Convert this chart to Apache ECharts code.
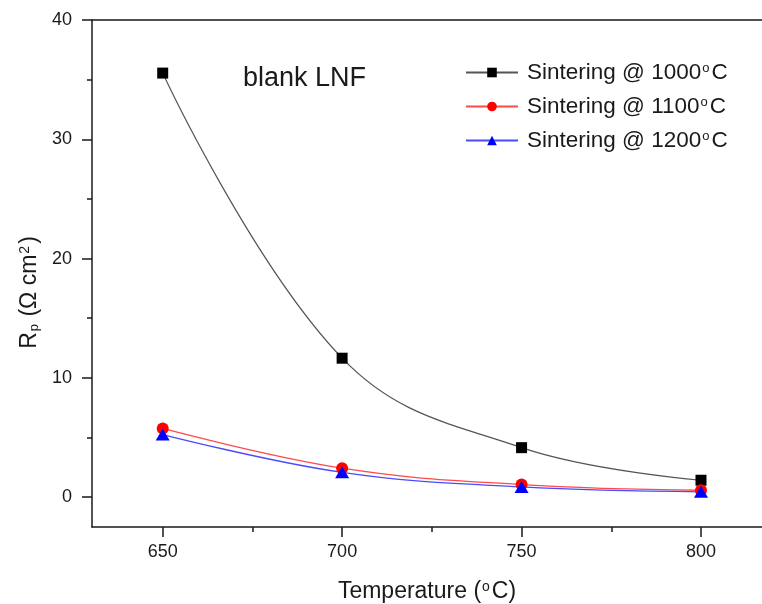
<!DOCTYPE html>
<html>
<head>
<meta charset="utf-8">
<script src="https://cdn.jsdelivr.net/npm/echarts@6/dist/echarts.min.js"></script>
<style>
  html, body { margin: 0; padding: 0; background: #fff; }
  #chart { width: 762px; height: 604px; }
</style>
</head>
<body>
<div id="chart"></div>
<script>
// Polarisation resistance of blank LNF cathodes vs. operating temperature
const temperatures = [650, 700, 750, 800];
const seriesNames = ['Sintering @ 1000°C', 'Sintering @ 1100°C', 'Sintering @ 1200°C'];
const rp1000 = [35.55, 11.65, 4.15, 1.42];
const rp1100 = [5.76, 2.43, 1.06, 0.58];
const rp1200 = [5.25, 2.08, 0.86, 0.45];
const xMajorTicks = [650, 700, 750, 800];
const xMinorTicks = [675, 725, 775];
const yMajorTicks = [0, 10, 20, 30, 40];
const yMinorTicks = [5, 15, 25, 35];

const FONT = '"Liberation Sans", Arial, sans-serif';
const INK = '#1a1a1a';
const X_MIN = 630.3, X_MAX = 817;
const Y_MIN = -2.5, Y_MAX = 40;

const pairs = vals => temperatures.map((t, i) => [t, vals[i]]);

const chart = echarts.init(document.getElementById('chart'), null, { renderer: 'canvas' });

const axisLine = { show: true, onZero: false, lineStyle: { color: INK, width: 1.5 } };
const supStyle = size => ({ fontFamily: FONT, fontSize: size, lineHeight: 9, color: INK, verticalAlign: 'top', padding: [0, 2, 0, 1] });

chart.setOption({
  animation: false,
  backgroundColor: '#fff',
  title: {
    text: 'blank LNF',
    left: 243,
    top: 65,
    padding: 0,
    textStyle: { fontFamily: FONT, fontSize: 27, fontWeight: 'normal', color: INK }
  },
  legend: {
    orient: 'vertical',
    left: 465,
    top: 61,
    itemWidth: 52,
    itemHeight: 12,
    itemGap: 11,
    padding: 0,
    data: seriesNames,
    formatter: name => name.replace('°', '{sup|o}'),
    textStyle: {
      fontFamily: FONT, fontSize: 22.5, lineHeight: 22, color: INK, padding: [0, 0, 0, 4],
      rich: { sup: supStyle(13) }
    }
  },
  grid: { left: 92, top: 20, width: 670, height: 507, containLabel: false, outerBoundsMode: 'none' },
  xAxis: [
    {
      type: 'value', position: 'bottom', min: X_MIN, max: X_MAX,
      name: '{t|Temperature (}{sup|o}{t|C)}',
      nameLocation: 'middle', nameGap: 53,
      nameTextStyle: {
        rich: {
          t: { fontFamily: FONT, fontSize: 23, lineHeight: 23, color: INK },
          sup: supStyle(14)
        }
      },
      axisLine: axisLine,
      axisTick: { show: true, inside: false, length: 10, lineStyle: { color: INK, width: 1.5 }, customValues: xMajorTicks },
      axisLabel: { fontFamily: FONT, fontSize: 18, color: INK, margin: 16, customValues: xMajorTicks },
      splitLine: { show: false }
    },
    {
      type: 'value', position: 'bottom', min: X_MIN, max: X_MAX,
      axisLine: { show: false, onZero: false },
      axisTick: { show: true, inside: false, length: 5, lineStyle: { color: INK, width: 1.5 }, customValues: xMinorTicks },
      axisLabel: { show: false },
      splitLine: { show: false }
    },
    {
      type: 'value', position: 'top', min: X_MIN, max: X_MAX,
      axisLine: axisLine,
      axisTick: { show: false },
      axisLabel: { show: false },
      splitLine: { show: false }
    }
  ],
  yAxis: [
    {
      type: 'value', position: 'left', min: Y_MIN, max: Y_MAX,
      name: '{r|R}{sub|p}{r| (Ω cm}{sup|2}{r|)}',
      nameLocation: 'middle', nameGap: 50, nameRotate: 90,
      nameTextStyle: {
        padding: [0, 38, 0, 0],
        rich: {
          r: { fontFamily: FONT, fontSize: 23, lineHeight: 23, color: INK },
          sub: { fontFamily: FONT, fontSize: 13, lineHeight: 9, color: INK, verticalAlign: 'bottom', padding: [0, 1, 0, 1] },
          sup: supStyle(14)
        }
      },
      axisLine: axisLine,
      axisTick: { show: true, inside: false, length: 10, lineStyle: { color: INK, width: 1.5 }, customValues: yMajorTicks },
      axisLabel: { fontFamily: FONT, fontSize: 18, color: INK, margin: 20, customValues: yMajorTicks },
      splitLine: { show: false }
    },
    {
      type: 'value', position: 'left', min: Y_MIN, max: Y_MAX,
      axisLine: { show: false, onZero: false },
      axisTick: { show: true, inside: false, length: 5, lineStyle: { color: INK, width: 1.5 }, customValues: yMinorTicks },
      axisLabel: { show: false },
      splitLine: { show: false }
    }
  ],
  series: [
    {
      name: seriesNames[0], type: 'line', xAxisIndex: 0, yAxisIndex: 0,
      data: pairs(rp1000), smooth: 0.4,
      symbol: 'rect', symbolSize: 11,
      lineStyle: { color: '#555', width: 1.2 },
      itemStyle: { color: '#000' }
    },
    {
      name: seriesNames[1], type: 'line', xAxisIndex: 0, yAxisIndex: 0,
      data: pairs(rp1100), smooth: 0.4,
      symbol: 'circle', symbolSize: 12,
      lineStyle: { color: '#ff4a4a', width: 1.3 },
      itemStyle: { color: '#ff0000' }
    },
    {
      name: seriesNames[2], type: 'line', xAxisIndex: 0, yAxisIndex: 0,
      data: pairs(rp1200), smooth: 0.4,
      symbol: 'triangle', symbolSize: [14, 12],
      lineStyle: { color: '#4a4aff', width: 1.3 },
      itemStyle: { color: '#0000ff' }
    }
  ]
});
</script>
</body>
</html>
